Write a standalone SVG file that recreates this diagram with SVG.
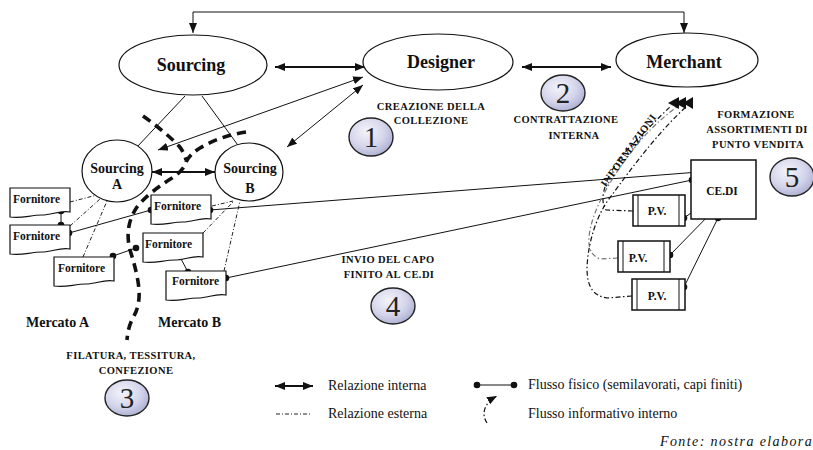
<svg xmlns="http://www.w3.org/2000/svg" xmlns:xlink="http://www.w3.org/1999/xlink" width="813" height="450" viewBox="0 0 813 450">
  <style>
    text { font-family: 'Liberation Serif', 'DejaVu Serif', serif; fill: #111; }
    .node { fill: #fff; stroke: #111; stroke-width: 1.2; }
    .title { font-weight: bold; font-size: 18px; text-anchor: middle; }
    .sub { font-weight: bold; font-size: 14px; text-anchor: middle; }
    .forn { font-weight: bold; font-size: 11.5px; }
    .cap { font-weight: bold; font-size: 10.5px; text-anchor: middle; letter-spacing: 0.4px; }
    .market { font-weight: bold; font-size: 14px; }
    .legend { font-size: 14px; }
    .num { font-size: 29px; fill: #222; text-anchor: middle; }
    .badge { fill: url(#badgeFill); stroke: #222; stroke-width: 1.4; }
    .solid { fill: none; stroke: #111; stroke-width: 1; }
    .rel { fill: none; stroke: #111; stroke-width: 1.8; }
    .ext { fill: none; stroke: #222; stroke-width: 1; stroke-dasharray: 4 2 1 2; }
    .info { fill: none; stroke: #111; stroke-width: 1.2; stroke-dasharray: 5 2.5 1.5 2.5; }
    .border { fill: none; stroke: #111; stroke-width: 3.6; stroke-dasharray: 9 6; }
    .dot { fill: #111; }
    .box { fill: #fff; stroke: #111; stroke-width: 1.5; }
  </style>
  <defs>
    <marker id="head" viewBox="0 0 10 8" refX="10" refY="4" markerWidth="10" markerHeight="8" markerUnits="userSpaceOnUse" orient="auto-start-reverse">
      <path d="M0,0 L10,4 L0,8 z" fill="#111"/>
    </marker>
    <radialGradient id="badgeFill" cx="0.4" cy="0.35" r="0.7">
      <stop offset="0" stop-color="#f4f4fb"/>
      <stop offset="0.6" stop-color="#d3d4ea"/>
      <stop offset="1" stop-color="#a9acd0"/>
    </radialGradient>
    <!-- supplier sheet: rectangle with a wavy lower edge -->
    <path id="doc" d="M0,0 H60 V24 C50,22 42,27 32,27 C20,27 12,31 0,29 Z"/>
  </defs>

  <!-- connectors -->
  <g id="connectors">
    <!-- top link Sourcing / Merchant -->
    <path class="solid" d="M193,33 V12 H684 V33" marker-start="url(#head)" marker-end="url(#head)"/>
    <line class="rel" x1="275" y1="67" x2="365" y2="67" marker-start="url(#head)" marker-end="url(#head)"/>
    <line class="rel" x1="522" y1="67" x2="611" y2="67" marker-start="url(#head)" marker-end="url(#head)"/>
    <line class="solid" x1="363" y1="77" x2="158" y2="150" marker-start="url(#head)" marker-end="url(#head)"/>
    <line class="solid" x1="363" y1="85" x2="287" y2="147" marker-start="url(#head)" marker-end="url(#head)"/>
    <line class="solid" x1="185" y1="96" x2="137" y2="147"/>
    <line class="solid" x1="202" y1="96" x2="240" y2="148"/>
    <line class="rel" x1="152" y1="172" x2="215" y2="172" marker-start="url(#head)" marker-end="url(#head)"/>

    <!-- external relations to suppliers -->
    <line class="ext" x1="70" y1="202" x2="97" y2="195"/>
    <line class="ext" x1="70" y1="226" x2="100" y2="199"/>
    <line class="ext" x1="83" y1="257" x2="107" y2="201"/>
    <line class="ext" x1="212" y1="206" x2="233" y2="201"/>
    <line class="ext" x1="203" y1="233" x2="233" y2="202"/>
    <line class="ext" x1="224" y1="271" x2="240" y2="201"/>

    <!-- market boundary -->
    <path class="border" d="M143,116 Q163,130 179,146 Q184,152 186,160"/>
    <path class="border" d="M246,132 Q220,136 200,148 Q190,154 186,162 Q184,170 172,178 Q148,193 137,207 Q124,226 130,250 Q138,275 139,290 Q140,305 134,316 Q128,326 127,340"/>

    <!-- physical flows -->
    <g class="solid">
      <line x1="61" y1="211" x2="61" y2="225"/>
      <line x1="69" y1="233" x2="151" y2="210"/>
      <line x1="113" y1="256" x2="136" y2="248"/>
      <line x1="180" y1="257" x2="188" y2="272"/>
      <line x1="210" y1="210" x2="699" y2="172"/>
      <line x1="226" y1="278" x2="692" y2="180"/>
      <line x1="684" y1="218" x2="705" y2="203"/>
      <line x1="670" y1="255" x2="714" y2="210"/>
      <line x1="684" y1="287" x2="718" y2="218"/>
    </g>
    <g class="dot">
      <circle cx="61" cy="211" r="3.3"/>
      <circle cx="61" cy="225" r="3.3"/>
      <circle cx="69" cy="233" r="3.3"/>
      <circle cx="151" cy="210" r="3.3"/>
      <circle cx="210" cy="210" r="3.3"/>
      <circle cx="113" cy="256" r="3.3"/>
      <circle cx="136" cy="248" r="3.3"/>
      <circle cx="180" cy="257" r="3.3"/>
      <circle cx="188" cy="272" r="3.3"/>
      <circle cx="226" cy="278" r="3.3"/>
      <circle cx="699" cy="172" r="3.3"/>
      <circle cx="692" cy="180" r="3.3"/>
      <circle cx="705" cy="203" r="3.3"/>
      <circle cx="714" cy="210" r="3.3"/>
      <circle cx="718" cy="218" r="3.3"/>
      <circle cx="684" cy="218" r="3.3"/>
      <circle cx="670" cy="255" r="3.3"/>
      <circle cx="684" cy="287" r="3.3"/>
    </g>

    <!-- information flows back to Merchant -->
    <path class="info" d="M633,211 L606,210 C598,200 606,172 628,149 C644,133 658,118 670,107"/>
    <path class="info" style="stroke:#777" d="M618,258 L600,259 C590,255 587,246 590,230 C596,200 620,165 641,140 C655,124 667,114 677,107"/>
    <path class="info" d="M632,296 L607,298 C594,296 587,288 587,268 C588,240 598,212 612,195 C630,170 660,130 686,107"/>
    <g fill="#111">
      <polygon points="668,103 679,97 679,109"/>
      <polygon points="675,103 686,97 686,109"/>
      <polygon points="683,103 693,97 693,109"/>
    </g>
  </g>

  <!-- main departments -->
  <g id="sourcing">
    <ellipse class="node" cx="193" cy="65" rx="74" ry="30"/>
    <text class="title" x="191" y="71">Sourcing</text>
  </g>
  <g id="designer">
    <ellipse class="node" cx="438" cy="62" rx="75" ry="28"/>
    <text class="title" x="441" y="68">Designer</text>
  </g>
  <g id="merchant">
    <ellipse class="node" cx="687" cy="60" rx="71" ry="27"/>
    <text class="title" x="684" y="68">Merchant</text>
  </g>
  <g id="sourcing-a">
    <ellipse class="node" cx="117" cy="171" rx="35" ry="31"/>
    <text class="sub" x="117" y="173">Sourcing</text>
    <text class="sub" x="117" y="189">A</text>
  </g>
  <g id="sourcing-b">
    <ellipse class="node" cx="249" cy="172" rx="34" ry="29"/>
    <text class="sub" x="250" y="173">Sourcing</text>
    <text class="sub" x="250" y="193">B</text>
  </g>

  <!-- suppliers -->
  <g id="fornitore-1" transform="translate(10,188)">
    <use xlink:href="#doc" class="node"/>
    <text class="forn" x="3" y="15">Fornitore</text>
  </g>
  <g id="fornitore-2" transform="translate(10,225)">
    <use xlink:href="#doc" class="node"/>
    <text class="forn" x="3" y="15">Fornitore</text>
  </g>
  <g id="fornitore-3" transform="translate(54,257)">
    <use xlink:href="#doc" class="node"/>
    <text class="forn" x="4" y="15">Fornitore</text>
  </g>
  <g id="fornitore-4" transform="translate(151,195)">
    <use xlink:href="#doc" class="node"/>
    <text class="forn" x="3" y="15">Fornitore</text>
  </g>
  <g id="fornitore-5" transform="translate(143,233)">
    <use xlink:href="#doc" class="node"/>
    <text class="forn" x="2" y="15">Fornitore</text>
  </g>
  <g id="fornitore-6" transform="translate(166,271)">
    <use xlink:href="#doc" class="node"/>
    <text class="forn" x="6" y="14">Fornitore</text>
  </g>

  <!-- distribution centre and points of sale -->
  <g id="cedi">
    <rect class="box" x="691" y="160" width="65" height="59"/>
    <text class="forn" x="722" y="195" text-anchor="middle" font-size="12">CE.DI</text>
  </g>
  <g id="pv-1">
    <rect class="box" x="633" y="195" width="52" height="31"/>
    <line class="solid" x1="638" y1="195" x2="638" y2="226"/>
    <line class="solid" x1="679" y1="195" x2="679" y2="226"/>
    <text class="forn" x="657" y="215" text-anchor="middle" font-size="12">P.V.</text>
  </g>
  <g id="pv-2">
    <rect class="box" x="618" y="241" width="52" height="31"/>
    <line class="solid" x1="623" y1="241" x2="623" y2="272"/>
    <line class="solid" x1="664" y1="241" x2="664" y2="272"/>
    <text class="forn" x="638" y="262" text-anchor="middle" font-size="12">P.V.</text>
  </g>
  <g id="pv-3">
    <rect class="box" x="632" y="279" width="53" height="31"/>
    <line class="solid" x1="637" y1="279" x2="637" y2="310"/>
    <line class="solid" x1="679" y1="279" x2="679" y2="310"/>
    <text class="forn" x="657" y="300" text-anchor="middle" font-size="12">P.V.</text>
  </g>

  <!-- phase badges -->
  <g id="badge-1">
    <ellipse class="badge" cx="371" cy="137" rx="22" ry="19"/>
    <text class="num" x="371" y="147">1</text>
  </g>
  <g id="badge-2">
    <ellipse class="badge" cx="563" cy="93" rx="22" ry="18"/>
    <text class="num" x="563" y="103">2</text>
  </g>
  <g id="badge-3">
    <ellipse class="badge" cx="127" cy="398" rx="22" ry="18"/>
    <text class="num" x="127" y="408">3</text>
  </g>
  <g id="badge-4">
    <ellipse class="badge" cx="393" cy="306" rx="22" ry="18"/>
    <text class="num" x="393" y="316">4</text>
  </g>
  <g id="badge-5">
    <ellipse class="badge" cx="792" cy="177" rx="22" ry="19"/>
    <text class="num" x="792" y="187">5</text>
  </g>

  <!-- phase captions -->
  <text class="cap" x="431" y="110">CREAZIONE DELLA</text>
  <text class="cap" x="431" y="124">COLLEZIONE</text>
  <text class="cap" x="566" y="123">CONTRATTAZIONE</text>
  <text class="cap" x="574" y="139">INTERNA</text>
  <text class="cap" x="756" y="118">FORMAZIONE</text>
  <text class="cap" x="757" y="133">ASSORTIMENTI DI</text>
  <text class="cap" x="758" y="148">PUNTO VENDITA</text>
  <text class="cap" x="388" y="263">INVIO DEL CAPO</text>
  <text class="cap" x="389" y="278">FINITO AL CE.DI</text>
  <text class="cap" x="131" y="359">FILATURA, TESSITURA,</text>
  <text class="cap" x="136" y="374">CONFEZIONE</text>
  <text class="cap" transform="translate(628,150) rotate(-54)" x="0" y="4" font-size="11">INFORMAZIONI</text>

  <text class="market" x="26" y="327">Mercato A</text>
  <text class="market" x="158" y="327">Mercato B</text>

  <!-- legend -->
  <g id="legend">
    <line class="rel" x1="275" y1="386" x2="313" y2="386" marker-start="url(#head)" marker-end="url(#head)"/>
    <text class="legend" x="328" y="390">Relazione interna</text>
    <line class="ext" x1="276" y1="414" x2="312" y2="414"/>
    <text class="legend" x="328" y="418">Relazione esterna</text>
    <line class="solid" x1="477" y1="385" x2="514" y2="385"/>
    <circle class="dot" cx="477" cy="385" r="3.3"/>
    <circle class="dot" cx="514" cy="385" r="3.3"/>
    <text class="legend" x="528" y="389">Flusso fisico (semilavorati, capi finiti)</text>
    <path class="info" d="M487,423 C481,414 484,403 497,396" marker-end="url(#head)"/>
    <text class="legend" x="528" y="418">Flusso informativo interno</text>
    <text class="legend" x="660" y="446" font-style="italic" letter-spacing="1.4">Fonte: nostra elabora</text>
  </g>
</svg>
